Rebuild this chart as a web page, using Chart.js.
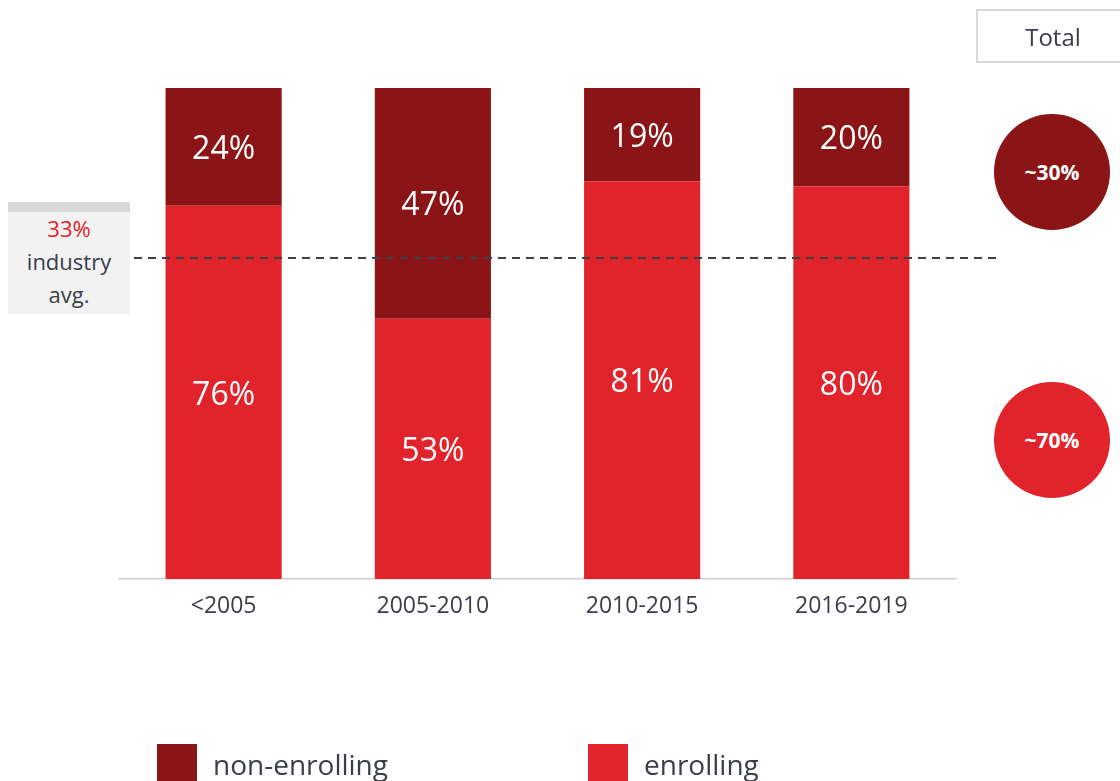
<!DOCTYPE html>
<html>
<head>
<meta charset="utf-8">
<script src="https://cdn.jsdelivr.net/npm/chart.js@4.4.1/dist/chart.umd.min.js"></script>
<style>
  html, body { margin: 0; padding: 0; background: #ffffff; }
  body { width: 1120px; height: 781px; position: relative; overflow: hidden; font-family: "Open Sans", "Noto Sans", sans-serif; color: #3b3e48; }
  #wrap { position: absolute; left: 0; top: 0; width: 1120px; height: 781px; }
  .avgbox { position: absolute; left: 8px; top: 202px; width: 122px; height: 112px; background: #f2f2f2; }
  .avgbox .strip { position: absolute; left: 0; top: 0; width: 100%; height: 10px; background: #d9d9d9; }
  .avgbox .txt { position: absolute; left: 0; top: 10px; width: 100%; text-align: center; font-size: 22px; line-height: 33px; color: #3b3e48; }
  .avgbox .red { color: #e1242b; }
  .totalbox { position: absolute; left: 976px; top: 9px; width: 150px; height: 50px; border: 2px solid #d9d9d9; box-sizing: content-box; }
  .totalbox span { position: absolute; left: 0; width: 150px; top: 0; line-height: 52px; text-align: center; font-size: 24px; color: #3b3e48; }
  .circle { position: absolute; width: 116px; height: 116px; border-radius: 50%; color: #fff; font-weight: bold; font-size: 21px; text-align: center; line-height: 116px; }
  .legend { position: absolute; top: 744px; height: 37px; }
  .legend .sw { position: absolute; left: 0; top: 0; width: 40px; height: 40px; }
  .legend .lab { position: absolute; left: 56px; top: 0; font-size: 28px; line-height: 40px; white-space: nowrap; color: #3b3e48; }
</style>
</head>
<body>
<div id="wrap"><canvas id="c" width="1120" height="781"></canvas></div>
<div class="avgbox"><div class="strip"></div><div class="txt" id="avgtxt"></div></div>
<div class="totalbox"><span id="totaltitle"></span></div>
<div class="circle" id="circ1" style="left:994px; top:114px;"></div>
<div class="circle" id="circ2" style="left:994px; top:382px;"></div>
<div class="legend" id="leg1" style="left:157px;"><div class="sw"></div><div class="lab"></div></div>
<div class="legend" id="leg2" style="left:588px;"><div class="sw"></div><div class="lab"></div></div>
<script>
// ---- data ----
const categories = ['<2005', '2005-2010', '2010-2015', '2016-2019'];
const nonEnrolling = [24, 47, 19, 20];
const enrolling = [76, 53, 81, 80];
const seriesNames = ['non-enrolling', 'enrolling'];
const industryAvgLabel = '33%';
const industryAvgLine = 65.4;   // level of dashed line on 0-100 scale, as drawn
const totalLabels = ['~30%', '~70%'];
const totalTitle = 'Total';

const DARK = '#8b1516';
const BRIGHT = '#e1242b';

// ---- HTML annotations ----
document.getElementById('avgtxt').innerHTML =
  '<span class="red">' + industryAvgLabel + '</span><br>industry<br>avg.';
document.getElementById('totaltitle').textContent = totalTitle;
const c1 = document.getElementById('circ1'); c1.textContent = totalLabels[0]; c1.style.background = DARK;
const c2 = document.getElementById('circ2'); c2.textContent = totalLabels[1]; c2.style.background = BRIGHT;
const l1 = document.getElementById('leg1'); l1.querySelector('.sw').style.background = DARK; l1.querySelector('.lab').textContent = seriesNames[0];
const l2 = document.getElementById('leg2'); l2.querySelector('.sw').style.background = BRIGHT; l2.querySelector('.lab').textContent = seriesNames[1];

// ---- plugins ----
const segmentLabels = {
  id: 'segmentLabels',
  afterDatasetsDraw(chart) {
    const ctx = chart.ctx;
    ctx.save();
    ctx.fillStyle = '#ffffff';
    ctx.font = '32px "Open Sans", "Noto Sans", sans-serif';
    ctx.textAlign = 'center';
    ctx.textBaseline = 'middle';
    chart.data.datasets.forEach((ds, di) => {
      const meta = chart.getDatasetMeta(di);
      meta.data.forEach((el, i) => {
        const y = (el.y + el.base) / 2 + 3;
        ctx.fillText(ds.data[i] + '%', el.x, y);
      });
    });
    ctx.restore();
  }
};

const avgLine = {
  id: 'avgLine',
  afterDatasetsDraw(chart) {
    const ctx = chart.ctx;
    const y = chart.scales.y.getPixelForValue(industryAvgLine);
    const area = chart.chartArea;
    ctx.save();
    ctx.strokeStyle = '#3d4049';
    ctx.lineWidth = 2;
    ctx.setLineDash([8, 6]);
    ctx.beginPath();
    ctx.moveTo(area.left + 15, y);
    ctx.lineTo(area.right + 41, y);
    ctx.stroke();
    ctx.restore();
  }
};

new Chart(document.getElementById('c'), {
  type: 'bar',
  data: {
    labels: categories,
    datasets: [
      { label: seriesNames[1], data: enrolling, backgroundColor: BRIGHT, borderWidth: 0, stack: 's', order: 1 },
      { label: seriesNames[0], data: nonEnrolling, backgroundColor: DARK, borderWidth: 0, stack: 's', order: 2 }
    ]
  },
  options: {
    responsive: false,
    animation: false,
    devicePixelRatio: 1,
    layout: { padding: { left: 119, right: 164, top: 88, bottom: 142 } },
    plugins: { legend: { display: false }, tooltip: { enabled: false } },
    datasets: { bar: { categoryPercentage: 0.555, barPercentage: 1.0 } },
    scales: {
      x: {
        stacked: true,
        grid: { display: false, drawTicks: false },
        border: { display: true, color: '#d0d0d0', width: 1.5 },
        ticks: { color: '#3b3e48', padding: 14, font: { family: '"Open Sans", "Noto Sans", sans-serif', size: 23 } },
        afterFit(scale) { scale.height = 60; }
      },
      y: {
        stacked: true, display: false, min: 0, max: 100
      }
    }
  },
  plugins: [segmentLabels, avgLine]
});
</script>
</body>
</html>
